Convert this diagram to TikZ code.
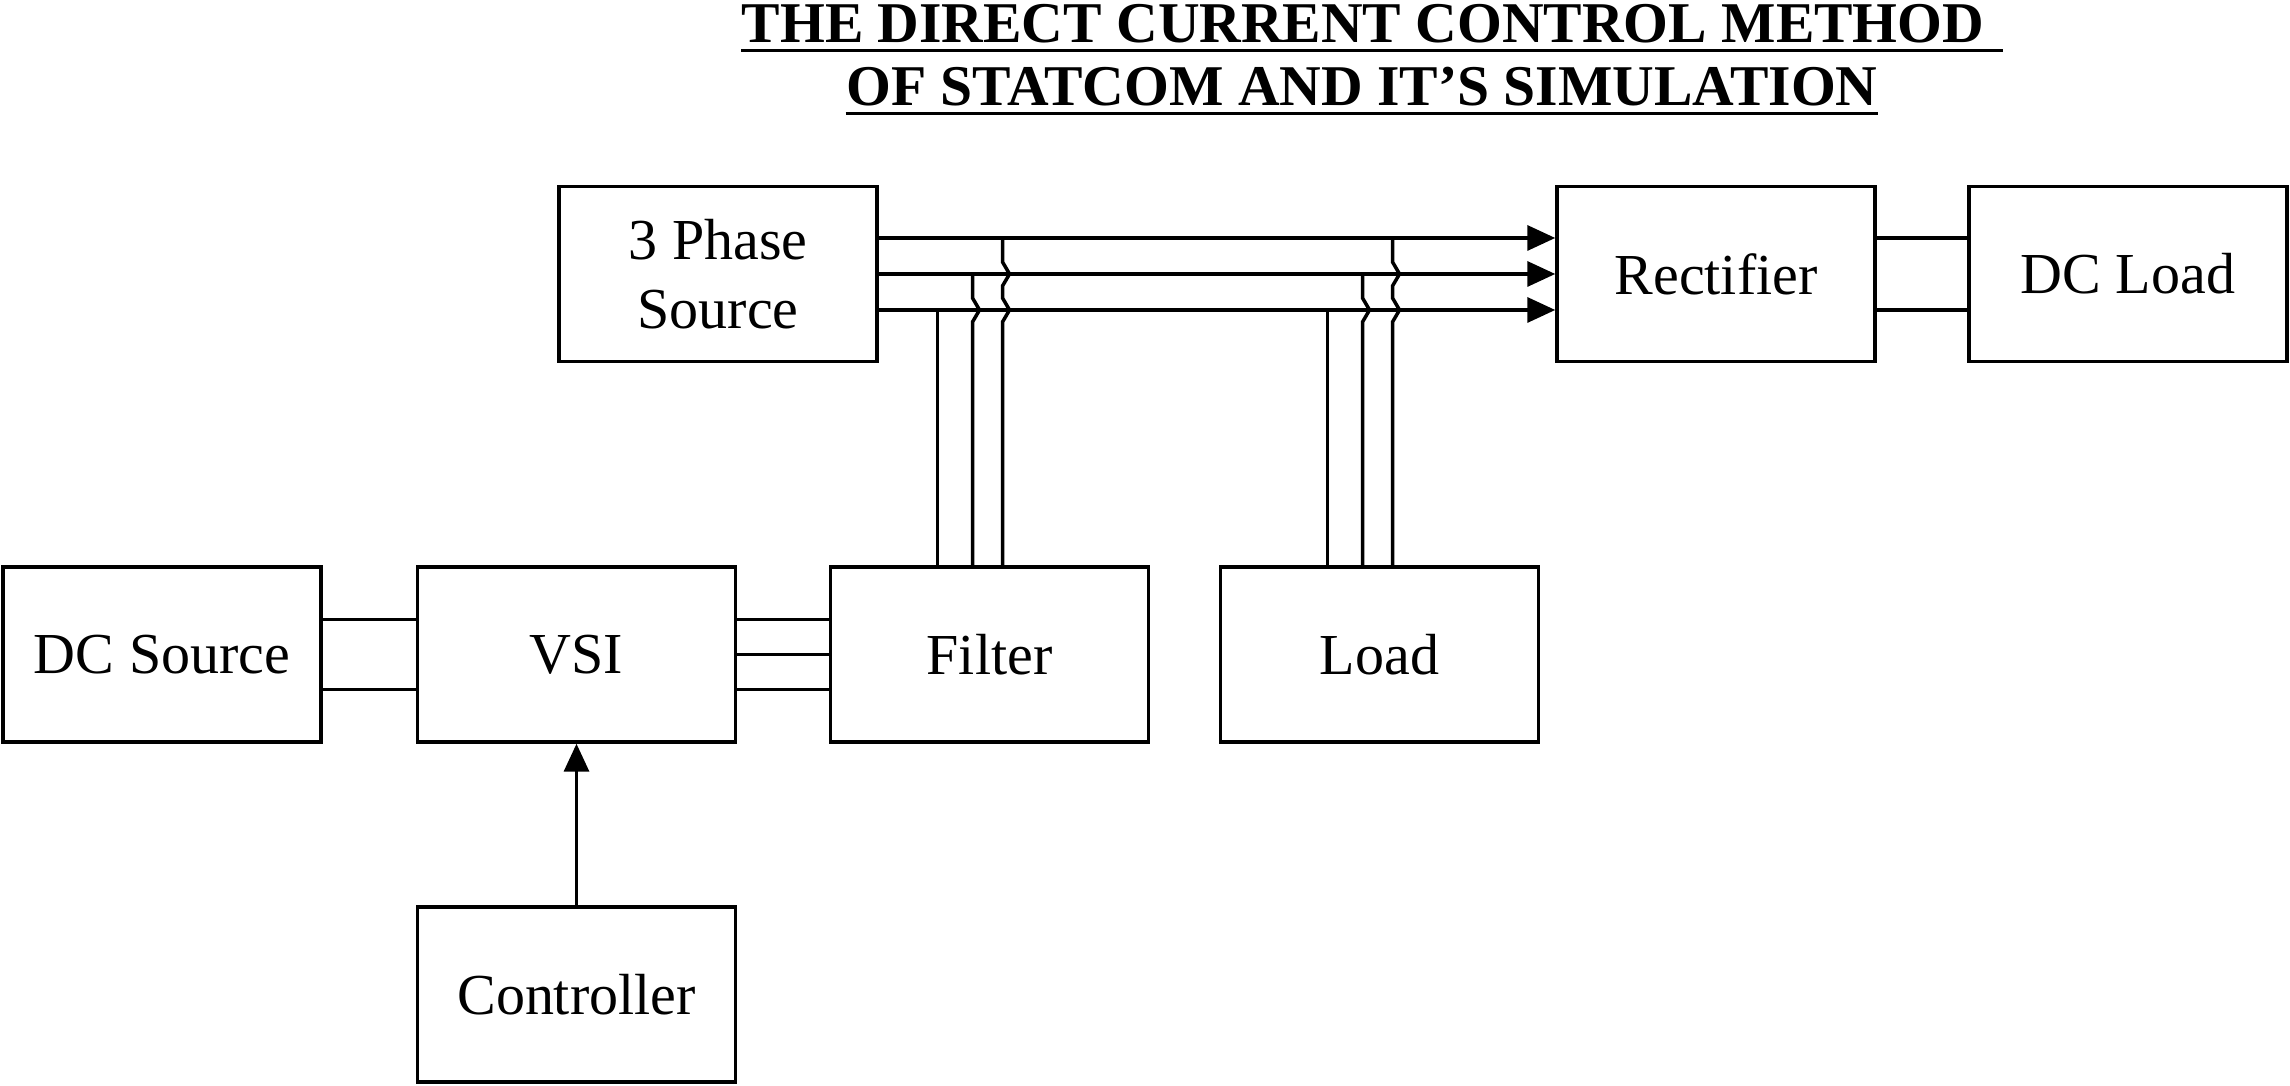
\documentclass[tikz,border=0pt]{standalone}
\usepackage{fontspec}
\setmainfont{Liberation Serif}
\usepackage{tikz}
\usetikzlibrary{arrows.meta,calc,positioning}
\tikzset{
  block/.style={draw, line width=1pt, minimum width=3.18cm, minimum height=1.75cm,
    inner sep=2pt, align=center, font=\fontsize{16.5}{19.5}\selectfont},
  wire/.style={line width=1pt},
  arrowwire/.style={wire, -{Triangle[length=2.8mm,width=2.5mm]}},
  hop/.style={insert path={-- ($(#1)+(0,-0.12)$) -- ($(#1)+(0.07,0)$) -- ($(#1)+(0,0.12)$)}},
  title/.style={font=\fontsize{16.4}{19.5}\selectfont\bfseries, inner sep=0pt, anchor=base}
}

\begin{document}
\begin{tikzpicture}
    \useasboundingbox (0,0) rectangle (22.9,10.86);

    % Title
    \node[title] (t1) at (13.63,10.43) {THE DIRECT CURRENT CONTROL METHOD};
    \node[title] (t2) at (13.62,9.80) {OF STATCOM AND IT’S SIMULATION};
    \draw[line width=1pt] ([yshift=-2.2pt]t1.base west) -- ([yshift=-2.2pt,xshift=1.8mm]t1.base east);
    \draw[line width=1pt] ([yshift=-2.2pt]t2.base west) -- ([yshift=-2.2pt]t2.base east);

    % Blocks
    \node[block] (src) at (7.18,8.12) {3 Phase\\Source};
    \node[block] (rect) at (17.16,8.12) {Rectifier};
    \node[block] (dcload) at (21.28,8.12) {DC Load};
    \node[block] (dcsrc) at (1.62,4.315) {DC Source};
    \node[block] (vsi) at (5.765,4.315) {VSI};
    \node[block] (filter) at (9.895,4.315) {Filter};
    \node[block] (load) at (13.795,4.315) {Load};
    \node[block] (ctrl) at (5.765,0.915) {Controller};

    % Three phase bus
    \coordinate (pa) at ($(src.east)+(0,0.36)$);
    \coordinate (pb) at (src.east);
    \coordinate (pc) at ($(src.east)+(0,-0.36)$);
    \foreach \p in {pa,pb,pc}
        \draw[arrowwire] (\p) -- (\p -| rect.west);

    % Taps to filter and load
    \foreach \n in {filter,load}{
        \coordinate (\n1) at ($(\n.north)+(-0.52,0)$);
        \coordinate (\n2) at ($(\n.north)+(-0.17,0)$);
        \coordinate (\n3) at ($(\n.north)+(0.13,0)$);
        \draw[wire] (\n1) -- (\n1 |- pc);
        \draw[wire] (\n2) [hop=\n2 |- pc] -- (\n2 |- pb);
        \draw[wire] (\n3) [hop=\n3 |- pc] [hop=\n3 |- pb] -- (\n3 |- pa);
    }

    % Other links
    \foreach \s in {0.35,-0.35}
        \draw[wire] ([yshift=\s cm]dcsrc.east) -- ([yshift=\s cm]vsi.west);
    \foreach \s in {0.35,0,-0.35}
        \draw[wire] ([yshift=\s cm]vsi.east) -- ([yshift=\s cm]filter.west);
    \foreach \s in {0.36,-0.36}
        \draw[wire] ([yshift=\s cm]rect.east) -- ([yshift=\s cm]dcload.west);
    \draw[arrowwire] (ctrl.north) -- (vsi.south);
\end{tikzpicture}
\end{document}
